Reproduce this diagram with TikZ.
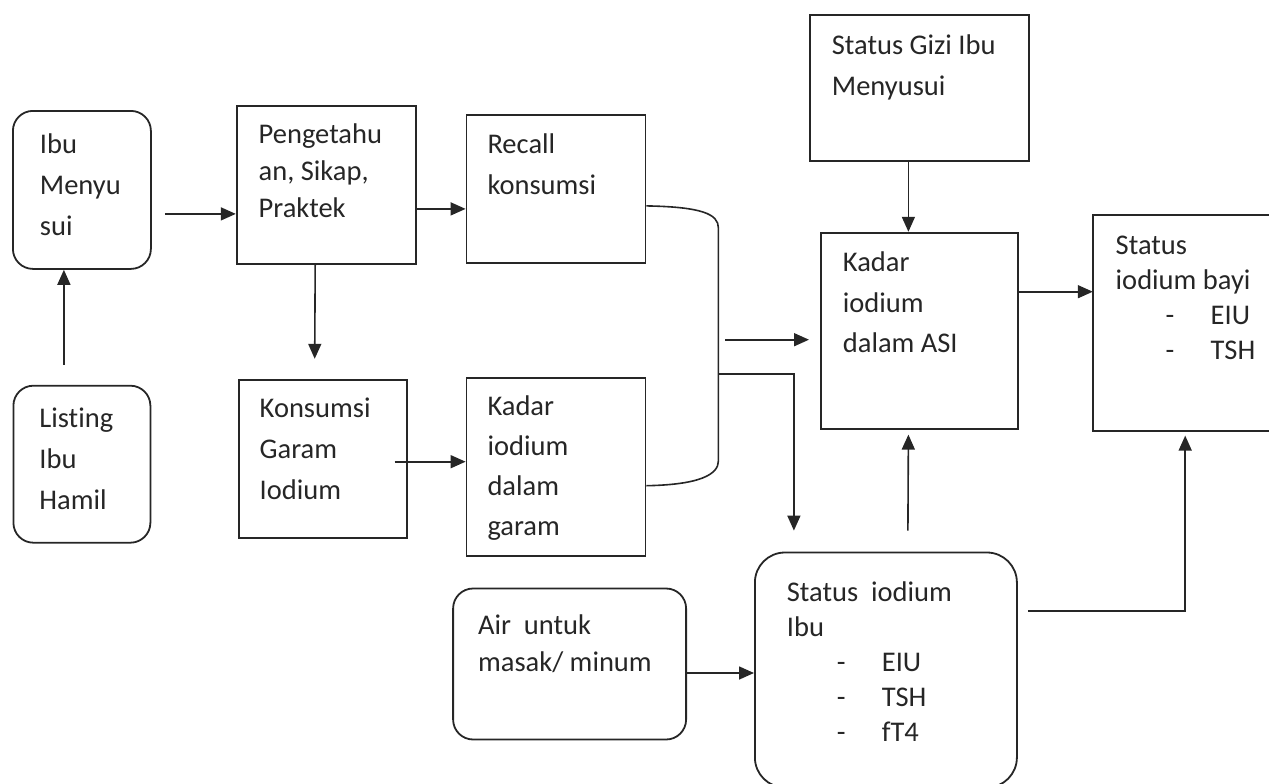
\documentclass[tikz,border=0pt]{standalone}
\usepackage{fontspec}
\setmainfont[Ligatures=NoCommon]{Carlito}
\usepackage{tikz}
\usetikzlibrary{calc}
\usetikzlibrary{positioning,arrows.meta}

\newcommand{\boxtxt}[4][28pt]{\parbox[t][#3][t]{#2}{\raggedright\rule{0pt}{#1}#4}}
\newcommand{\itm}[1]{\hspace*{50pt}\makebox[45pt][l]{-}#1}

\begin{document}
\begin{tikzpicture}[x=1pt, y=1pt,
        blk/.style={rectangle, draw=black!85, line width=1.8pt, anchor=north west, inner xsep=22pt, inner ysep=11pt, text=black!85, font=\fontsize{28.5}{41}\selectfont},
        rblk/.style={blk, rounded corners=20pt},
        arr/.style={-{Triangle[length=15pt,width=13pt]}, line width=1.6pt, draw=black!85}]
        \useasboundingbox (0,0) rectangle (1269,-784);

        %% Left column
        \node[rblk, inner xsep=27pt] (ibu) at (12,-110) {\boxtxt[32pt]{84pt}{136pt}{Ibu\\Menyu\\sui}};
        \node[rblk, inner xsep=26pt, below=115pt of ibu] (list) {\boxtxt[31pt]{85pt}{135pt}{Listing\\Ibu\\Hamil}};

        %% Knowledge and intake
        \node[blk, font=\fontsize{28.5}{37}\selectfont, right=84pt of ibu.north east, anchor=north west, yshift=5pt] (peng) {\boxtxt[27pt]{135pt}{136pt}{Pengetahu\\an, Sikap,\\Praktek}};
        \node[blk, inner xsep=21pt, below=114pt of peng.south west, anchor=north west, xshift=2pt] (kons) {\boxtxt[27pt]{126pt}{136pt}{Konsumsi\\Garam\\Iodium}};
        \node[blk, inner xsep=21pt, right=49pt of peng.north east, anchor=north west, yshift=-9pt] (recall) {\boxtxt{137pt}{126pt}{Recall\\konsumsi}};
        \node[blk, inner xsep=21pt, font=\fontsize{28.5}{40}\selectfont, below=113pt of recall.south west, anchor=north west] (garam) {\boxtxt[27pt]{137pt}{156pt}{Kadar\\iodium\\dalam\\garam}};

        %% Right part
        \node[blk] (gizi) at (809,-14) {\boxtxt[29pt]{175pt}{124pt}{Status Gizi Ibu\\Menyusui}};
        \node[blk, font=\fontsize{28.5}{40.5}\selectfont, below=70pt of gizi] (asi) {\boxtxt{153pt}{174pt}{Kadar\\iodium\\dalam ASI}};
        \node[blk, draw=none, font=\fontsize{28.5}{35}\selectfont, right=74pt of asi.north east, anchor=north west, yshift=17pt] (bayi) {\boxtxt{135pt}{192pt}{Status\\iodium bayi\\\itm{EIU}\\\itm{TSH}}};
        \draw[black!85, line width=1.8pt] (bayi.north east) -- (bayi.north west) -- (bayi.south west) -- (bayi.south east);
        \node[blk, rounded corners=30pt, inner xsep=32pt, font=\fontsize{28.5}{35}\selectfont, below=122pt of asi.south west, anchor=north west, xshift=-66pt] (stat) {\boxtxt[38pt]{198pt}{213pt}{Status\ \ iodium\\Ibu\\\itm{EIU}\\\itm{TSH}\\\itm{fT4}}};
        \node[rblk, inner xsep=25pt, font=\fontsize{28.5}{37}\selectfont, left=67pt of stat.north west, anchor=north east, yshift=-36pt] (air) {\boxtxt[35pt]{183pt}{129pt}{Air\ \ untuk\\masak/ minum}};

        %% Arrows
        \draw[arr] ([xshift=-18pt,yshift=20pt]list.north) -- ([xshift=-18pt]ibu.south);
        \draw[arr] ([xshift=13pt,yshift=-24pt]ibu.east) -- ([yshift=-29pt]peng.west);
        \draw[arr] ([yshift=-24pt]peng.east) -- ([yshift=-20pt]recall.west);
        \draw[arr] ([xshift=-11pt]peng.south) -- ([xshift=-8pt,yshift=20pt]kons.north);
        \draw[arr] ([xshift=-13pt,yshift=-3pt]kons.east) -- ([yshift=5pt]garam.west);

        %% Bracket joining recall and salt
        \draw[line width=1.6pt, black!85] ([yshift=-17pt]recall.east) .. controls +(55,-1) and +(0,14) .. ++(72,-22) -- ++(0,-233) .. controls +(0,-13) and +(55,1) .. ([yshift=-19pt]garam.east);
        \coordinate (jn) at ($(recall.east)+(72,-185)$);
        \draw[arr] (jn) -| ([xshift=-92pt,yshift=21pt]stat.north);
        \draw[arr] ([xshift=-95pt,yshift=-9pt]asi.west) -- ([xshift=-11pt,yshift=-9pt]asi.west);

        \draw[arr] ([xshift=-11pt]gizi.south) -- ([xshift=-11pt]asi.north);
        \draw[arr] ([yshift=39pt]asi.east) -- ([yshift=31pt]bayi.west);
        \draw[arr] ([xshift=22pt,yshift=21pt]stat.north) -- ([xshift=-11pt,yshift=-5pt]asi.south);
        \draw[arr] ([xshift=10pt,yshift=59pt]stat.east) -| ([xshift=2pt,yshift=-5pt]bayi.south);
        \draw[arr] ([yshift=-9pt]air.east) -- ([yshift=-3pt]stat.west);
\end{tikzpicture}
\end{document}
